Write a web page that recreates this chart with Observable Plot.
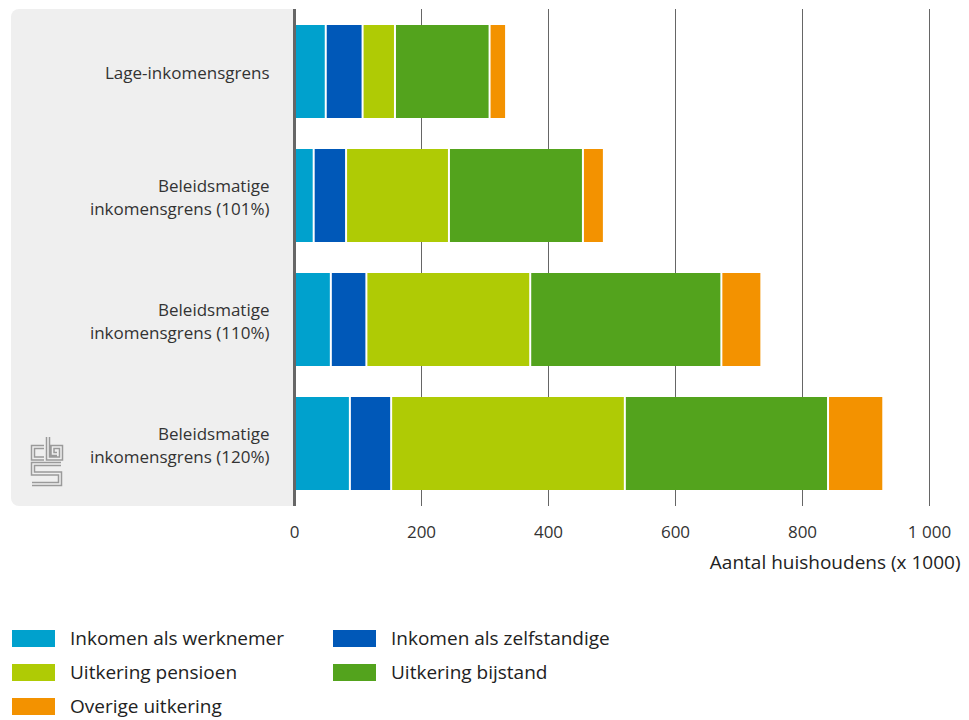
<!DOCTYPE html>
<html>
<head>
<meta charset="utf-8">
<script src="https://cdn.jsdelivr.net/npm/d3@7"></script>
<script src="https://cdn.jsdelivr.net/npm/@observablehq/plot@0.6"></script>
<style>
  body { margin: 0; background: #fff; font-family: "Open Sans", sans-serif; }
  #chart svg { display: block; }
  .legend { display: grid; grid-template-columns: 321px 400px; grid-auto-rows: 34px; padding: 31px 0 0 12px; font-size: 19px; color: #222; }
  .item { display: flex; align-items: center; }
  .sw { width: 43px; height: 17px; margin-right: 15px; flex: none; }
</style>
</head>
<body>
<div id="chart"></div>
<script>
const categories = [
  "Lage-inkomensgrens",
  "Beleidsmatige\ninkomensgrens (101%)",
  "Beleidsmatige\ninkomensgrens (110%)",
  "Beleidsmatige\ninkomensgrens (120%)"
];
const series = ["Inkomen als werknemer", "Inkomen als zelfstandige", "Uitkering pensioen", "Uitkering bijstand", "Overige uitkering"];
const colors = ["#00a1cd", "#0058b8", "#afcb05", "#53a31d", "#f39200"];
const werknemer    = [50, 31, 58, 88];
const zelfstandige = [58, 51, 56, 65];
const pensioen     = [51, 162, 258, 368];
const bijstand     = [149, 211, 301, 320];
const overige      = [26, 33, 63, 87];
const xTicks = [0, 200, 400, 600, 800, 1000];
const xLabel = "Aantal huishoudens (x 1000)";

const seriesValues = [werknemer, zelfstandige, pensioen, bijstand, overige];
const data = [];
series.forEach((s, i) => categories.forEach((c, j) => data.push({category: c, series: s, value: seriesValues[i][j]})));

const W = 969, H = 590, ML = 294, MR = 40, MT = 9, MB = 84;

function panel() {
  const g = d3.create("svg:g");
  g.append("path")
    .attr("d", `M${ML},${MT} H19 A8,8 0 0 0 11,${MT + 8} V${H - MB - 8} A8,8 0 0 0 19,${H - MB} H${ML} Z`)
    .attr("fill", "#efefef");
  const logo = "M44,447 H33 V458.5 H44 M48,437 V458.5 H61 V447 H52.5 V454 H57 M61,464 H33 V473.5 H60 V484 H32";
  g.append("path").attr("d", logo).attr("fill", "none").attr("stroke", "#9a9a9a").attr("stroke-width", 4.5);
  g.append("path").attr("d", logo).attr("fill", "none").attr("stroke", "#efefef").attr("stroke-width", 1.5);
  return g.node();
}

const fmt = d => d3.format(",")(d).replace(",", " ");

const plot = Plot.plot({
  width: W, height: H,
  marginLeft: ML, marginRight: MR, marginTop: MT, marginBottom: MB,
  style: {fontFamily: "'Open Sans', sans-serif", fontSize: "17px", color: "#333", background: "transparent"},
  x: {domain: [0, 1000], ticks: xTicks},
  y: {domain: categories, paddingInner: 0.246, paddingOuter: 0.12},
  color: {domain: series, range: colors},
  marks: [
    panel,
    Plot.ruleX(xTicks.slice(1), {stroke: "#666", strokeWidth: 1}),
    Plot.barX(data, Plot.stackX({x: "value", y: "category", fill: "series", insetLeft: 1, insetRight: 1})),
    Plot.ruleX([0], {stroke: "#666", strokeWidth: 3}),
    Plot.axisX({ticks: xTicks, tickSize: 0, tickPadding: 19, tickFormat: fmt, label: null}),
    Plot.axisY({tickSize: 0, tickPadding: 25, lineHeight: 1.35, label: null}),
    Plot.text([xLabel], {frameAnchor: "bottom-right", dx: 31, dy: 62, textAnchor: "end", fill: "#222", fontSize: 19})
  ]
});
document.getElementById("chart").append(plot);

const legend = d3.select("body").append("div").attr("class", "legend");
series.forEach((s, i) => {
  const it = legend.append("div").attr("class", "item");
  it.append("div").attr("class", "sw").style("background", colors[i]);
  it.append("span").text(s);
});
</script>
</body>
</html>
